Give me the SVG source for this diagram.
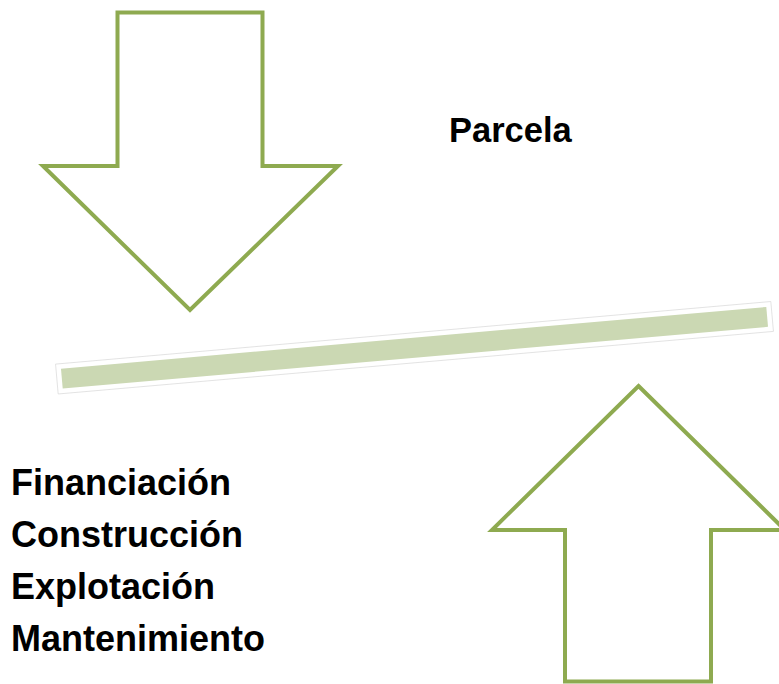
<svg xmlns="http://www.w3.org/2000/svg" width="779" height="684" viewBox="0 0 779 684">
<style>
.arrow{fill:#ffffff;stroke:#8eaa50;stroke-width:4;stroke-linejoin:miter}
.lbl{font-family:"Liberation Sans",Arial,sans-serif;font-weight:bold;font-size:36px;fill:#000000}
</style>
<rect width="779" height="684" fill="#ffffff"/>
<g id="arrow-down">
<polygon class="arrow" points="117.5,12.5 262.5,12.5 262.5,166 338,166 190,310 43,166 117.5,166"/>
</g>
<g id="bar">
<g transform="rotate(-5 414.5 347.75)">
<rect x="55.5" y="332.75" width="718" height="30" fill="#ffffff" stroke="#d8d8d8" stroke-width="0.7"/>
<rect x="60.5" y="337.75" width="708" height="20" fill="#cbd8b3"/>
</g>
</g>
<g id="arrow-up">
<polygon class="arrow" points="638.5,386 785,530 711,530 711,681.5 565,681.5 565,530 492,530"/>
</g>
<g id="label-parcela">
<text class="lbl" x="449" y="142" style="font-size:34.5px">Parcela</text>
</g>
<g id="label-list">
<text class="lbl" x="11" y="495">Financiación</text>
<text class="lbl" x="11" y="547">Construcción</text>
<text class="lbl" x="11" y="599">Explotación</text>
<text class="lbl" x="11" y="651">Mantenimiento</text>
</g>
</svg>
